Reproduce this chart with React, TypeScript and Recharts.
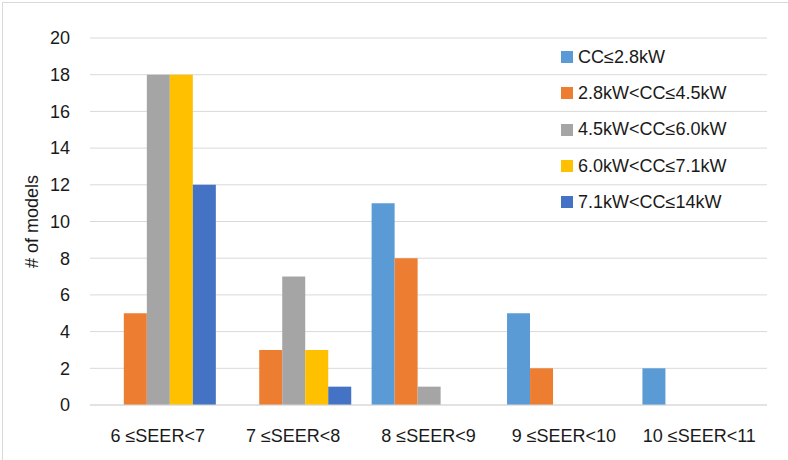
import { Bar, BarChart, CartesianGrid, XAxis, YAxis } from "recharts";

const categories = ["6 ≤SEER<7", "7 ≤SEER<8", "8 ≤SEER<9", "9 ≤SEER<10", "10 ≤SEER<11"];
const cc28 = [0, 0, 11, 5, 2];
const cc45 = [5, 3, 8, 2, 0];
const cc60 = [18, 7, 1, 0, 0];
const cc71 = [18, 3, 0, 0, 0];
const cc14 = [12, 1, 0, 0, 0];
const yTicks = [0, 2, 4, 6, 8, 10, 12, 14, 16, 18, 20];

const series = [
  { key: "s1", name: "CC≤2.8kW", values: cc28, color: "#5B9BD5" },
  { key: "s2", name: "2.8kW<CC≤4.5kW", values: cc45, color: "#ED7D31" },
  { key: "s3", name: "4.5kW<CC≤6.0kW", values: cc60, color: "#A5A5A5" },
  { key: "s4", name: "6.0kW<CC≤7.1kW", values: cc71, color: "#FFC000" },
  { key: "s5", name: "7.1kW<CC≤14kW", values: cc14, color: "#4472C4" },
];

const data = categories.map((cat, i) => {
  const row: Record<string, string | number> = { cat };
  series.forEach((s) => (row[s.key] = s.values[i]));
  return row;
});

const font = "'Liberation Sans', Arial, sans-serif";
const textColor = "#1a1a1a";

// legend sits inside the plot, each row between two gridlines
function LegendBox() {
  return (
    <div
      style={{
        position: "absolute",
        left: 561,
        top: 39,
        fontFamily: font,
        fontSize: 18,
        color: textColor,
      }}
    >
      {series.map((s) => (
        <div key={s.key} style={{ height: 36.3, display: "flex", alignItems: "center" }}>
          <span style={{ width: 12, height: 12, background: s.color, marginRight: 5 }} />
          <span>{s.name}</span>
        </div>
      ))}
    </div>
  );
}

export default function App() {
  return (
    <div style={{ position: "relative", width: 788, height: 460, overflow: "hidden", background: "#fff" }}>
      <style>{`body{margin:0}`}</style>
      <div
        style={{
          position: "absolute",
          left: 2,
          top: 2,
          width: 820,
          height: 480,
          border: "1px solid #d9d9d9",
          boxSizing: "border-box",
        }}
      />
      <BarChart
        width={788}
        height={460}
        data={data}
        margin={{ top: 38, right: 21, left: 0, bottom: 25 }}
        barCategoryGap="8%"
        barGap={0}
      >
        <CartesianGrid vertical={false} stroke="#d9d9d9" />
        <XAxis
          dataKey="cat"
          tickSize={0}
          tickMargin={24}
          axisLine={{ stroke: "#d9d9d9" }}
          tick={{ fontSize: 18, fill: textColor, fontFamily: font }}
          interval={0}
        />
        <YAxis
          width={90}
          domain={[0, 20]}
          ticks={yTicks}
          interval={0}
          tickSize={0}
          tickMargin={20}
          axisLine={false}
          tick={{ fontSize: 18, fill: textColor, fontFamily: font }}
          label={{
            value: "# of models",
            content: ({ viewBox }: any) => (
              <text
                x={32}
                y={viewBox.y + viewBox.height / 2}
                transform={`rotate(-90, 32, ${viewBox.y + viewBox.height / 2})`}
                textAnchor="middle"
                dominantBaseline="central"
                fontSize={18}
                fontFamily={font}
                fill={textColor}
              >
                # of models
              </text>
            ),
          }}
        />
        {series.map((s) => (
          <Bar key={s.key} dataKey={s.key} name={s.name} fill={s.color} isAnimationActive={false} />
        ))}
      </BarChart>
      <LegendBox />
    </div>
  );
}
